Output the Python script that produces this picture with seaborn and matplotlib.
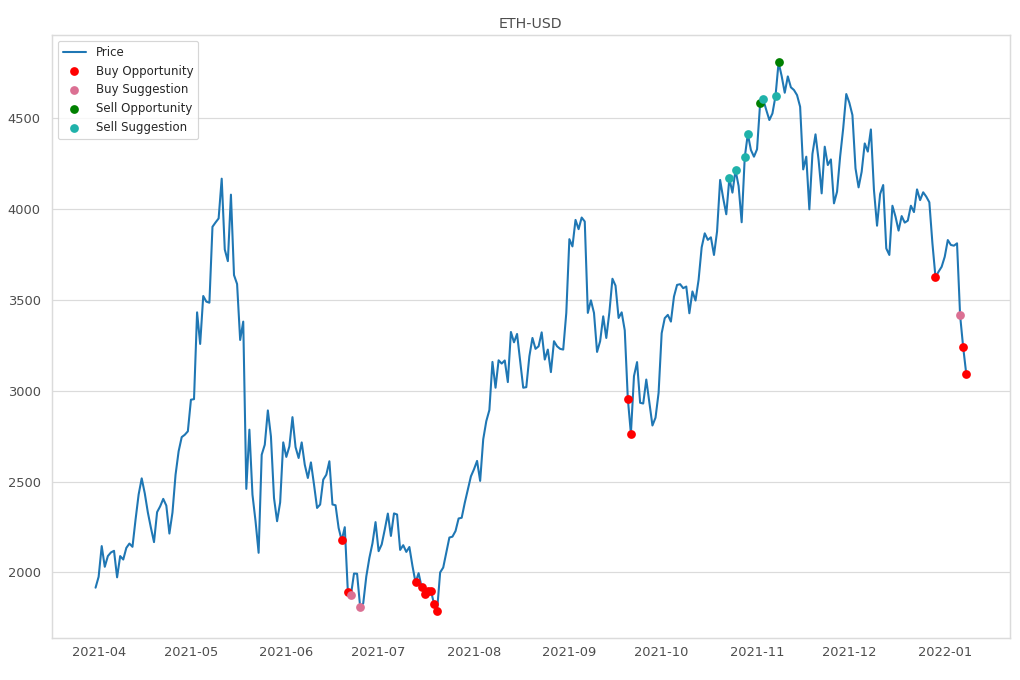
import pandas as pd
import matplotlib
matplotlib.use('Agg')
import matplotlib.pyplot as plt
import seaborn as sns

sns.set_theme(style='whitegrid', rc={'grid.color': '.86', 'axes.edgecolor': '.86'})

# daily prices, 2021-03-31 .. 2022-01-08
p_apr = [1916,
         1976, 2145, 2031, 2090, 2110, 2119, 1973, 2090, 2071, 2135,
         2159, 2141, 2291, 2429, 2518, 2435, 2330, 2245, 2167, 2332,
         2364, 2405, 2368, 2214, 2330, 2538, 2667, 2745, 2758, 2777]
p_may = [2951, 2954, 3432, 3258, 3522, 3491, 3485, 3903, 3927, 3949,
         4168, 3778, 3714, 4080, 3637, 3588, 3280, 3381, 2460, 2786,
         2428, 2282, 2108, 2648, 2703, 2892, 2749, 2410, 2282, 2386, 2716]
p_jun = [2636, 2694, 2855, 2690, 2630, 2716, 2593, 2520, 2606, 2484,
         2355, 2374, 2511, 2538, 2612, 2374, 2370, 2245, 2176, 2249,
         1894, 1875, 1994, 1993, 1810, 1830, 1978, 2080, 2160, 2277]
p_jul = [2117, 2154, 2236, 2324, 2201, 2325, 2319, 2124, 2150, 2113,
         2140, 2036, 1945, 1996, 1918, 1881, 1900, 1900, 1827, 1790,
         2000, 2027, 2109, 2192, 2197, 2228, 2297, 2301, 2383, 2456, 2529]
p_aug = [2568, 2614, 2504, 2733, 2833, 2894, 3159, 3017, 3168, 3150,
         3167, 3048, 3324, 3267, 3313, 3163, 3017, 3020, 3190, 3291,
         3231, 3245, 3322, 3172, 3227, 3103, 3273, 3245, 3231, 3227, 3429]
p_sep = [3835, 3795, 3941, 3890, 3954, 3932, 3429, 3498, 3429, 3214,
         3273, 3410, 3291, 3432, 3617, 3579, 3401, 3432, 3333, 2956,
         2764, 3081, 3158, 2934, 2930, 3062, 2934, 2809, 2852, 2989]
p_oct = [3317, 3400, 3418, 3381, 3519, 3583, 3587, 3565, 3574, 3427,
         3547, 3497, 3611, 3790, 3867, 3831, 3845, 3748, 3877, 4161,
         4060, 3972, 4170, 4091, 4216, 4128, 3928, 4285, 4414, 4326, 4289]
p_nov = [4330, 4583, 4605, 4546, 4491, 4527, 4623, 4808, 4733, 4641,
         4731, 4671, 4656, 4628, 4564, 4219, 4289, 3999, 4304, 4412,
         4271, 4087, 4344, 4243, 4274, 4032, 4096, 4289, 4445, 4634]
p_dec = [4586, 4518, 4225, 4120, 4206, 4362, 4317, 4439, 4105, 3909,
         4083, 4133, 3784, 3748, 4019, 3959, 3882, 3962, 3926, 3937,
         4019, 3984, 4109, 4050, 4093, 4069, 4038, 3812, 3625, 3656, 3683]
p_jan = [3738, 3830, 3803, 3799, 3812, 3415, 3239, 3093]

buy_opp = ['2021-06-19', '2021-06-21', '2021-07-13', '2021-07-15', '2021-07-16',
           '2021-07-17', '2021-07-18', '2021-07-19', '2021-07-20', '2021-09-20',
           '2021-09-21', '2021-12-29', '2022-01-07', '2022-01-08']
buy_sug = ['2021-06-22', '2021-06-25', '2022-01-06']
sell_opp = ['2021-11-02', '2021-11-08']
sell_sug = ['2021-10-23', '2021-10-25', '2021-10-28', '2021-10-29',
            '2021-11-03', '2021-11-07']

prices = p_apr + p_may + p_jun + p_jul + p_aug + p_sep + p_oct + p_nov + p_dec + p_jan
df = pd.DataFrame({'Date': pd.date_range('2021-03-31', periods=len(prices), freq='D'),
                   'Price': prices}).set_index('Date')

fig, ax = plt.subplots(figsize=(12, 8), dpi=85)
fig.subplots_adjust(left=0.051, right=0.990, top=0.9485, bottom=0.0618)

sns.lineplot(x=df.index, y=df['Price'], ax=ax, color='#1f77b4', label='Price',
             linewidth=1.75)

def dots(days, col, lab):
    d = pd.to_datetime(days)
    sns.scatterplot(x=d, y=df.loc[d, 'Price'].values, ax=ax, color=col,
                    label=lab, s=55, linewidth=0, zorder=3)

dots(buy_opp, 'red', 'Buy Opportunity')
dots(buy_sug, 'palevioletred', 'Buy Suggestion')
dots(sell_opp, 'green', 'Sell Opportunity')
dots(sell_sug, 'lightseagreen', 'Sell Suggestion')

ax.xaxis.grid(False)
ax.tick_params(axis='x', length=3.5, color='.86')
ax.tick_params(labelcolor='.3')
ax.set_xlabel('')
ax.set_ylabel('')
ax.set_title('ETH-USD', color='.3')
ax.legend(loc='upper left', fontsize=10)

plt.savefig('out.png', dpi=85)
